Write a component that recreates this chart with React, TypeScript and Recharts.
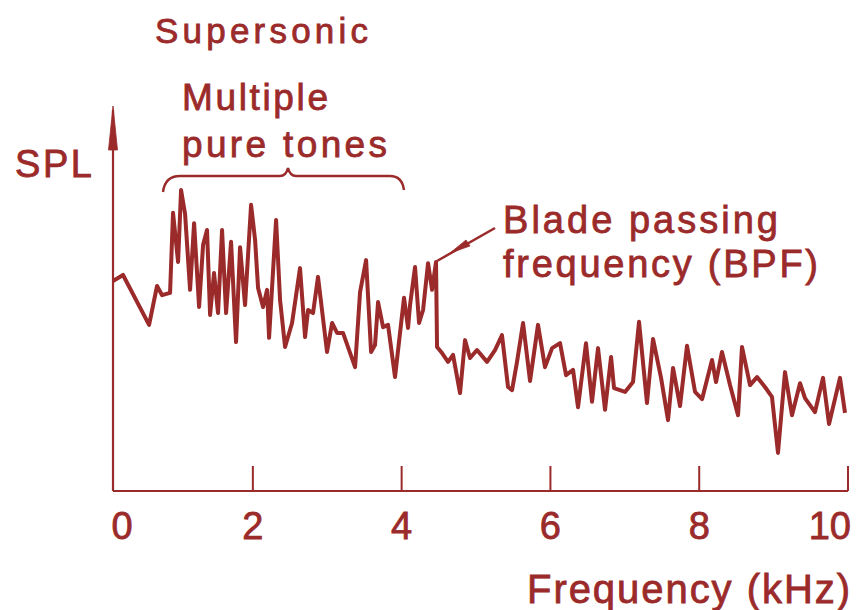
import { LineChart, Line, XAxis, YAxis } from 'recharts'

// Spectrum: frequency (kHz) and SPL (arbitrary units, 0–100)
const FREQ = [
  0.12, 0.255, 0.605, 0.712, 0.78, 0.887, 0.927, 0.995, 1.035, 1.089,
  1.156, 1.21, 1.277, 1.331, 1.384, 1.425, 1.478, 1.532, 1.586, 1.64,
  1.707, 1.774, 1.828, 1.895, 1.976, 2.03, 2.07, 2.137, 2.191, 2.218,
  2.312, 2.366, 2.433, 2.527, 2.634, 2.702, 2.742, 2.809, 2.876, 2.997,
  3.065, 3.132, 3.212, 3.374, 3.441, 3.522, 3.589, 3.642, 3.683, 3.75,
  3.817, 3.911, 4.032, 4.086, 4.113, 4.18, 4.234, 4.288, 4.355, 4.409,
  4.462, 4.476, 4.543, 4.624, 4.691, 4.785, 4.852, 4.919, 5.013, 5.148,
  5.255, 5.349, 5.43, 5.484, 5.551, 5.632, 5.726, 5.833, 5.927, 6.022,
  6.129, 6.21, 6.304, 6.371, 6.478, 6.559, 6.64, 6.734, 6.815, 6.855,
  7.003, 7.11, 7.191, 7.298, 7.379, 7.487, 7.581, 7.648, 7.742, 7.836,
  7.944, 8.038, 8.172, 8.226, 8.306, 8.414, 8.522, 8.575, 8.683, 8.777,
  8.884, 8.978, 9.059, 9.153, 9.247, 9.355, 9.422, 9.556, 9.664, 9.745,
  9.892, 9.96,
]
const SPL = [
  55.1, 56.7, 43.6, 53.8, 51.4, 52.0, 73.0, 60.1, 79.0, 72.7,
  52.8, 70.3, 48.3, 64.6, 68.5, 46.2, 57.2, 46.7, 68.5, 46.7,
  65.4, 39.1, 64.0, 48.8, 75.1, 65.9, 53.3, 48.3, 52.8, 40.2,
  71.1, 50.1, 37.8, 44.1, 58.5, 40.4, 47.5, 46.7, 56.2, 36.5,
  44.1, 41.5, 41.5, 32.5, 52.2, 60.6, 36.5, 38.3, 49.6, 43.0,
  43.6, 29.9, 50.7, 42.8, 48.8, 58.8, 44.1, 47.5, 59.8, 52.8,
  60.1, 37.8, 36.2, 33.9, 35.7, 25.7, 39.6, 34.9, 37.0, 33.9,
  37.0, 40.9, 27.3, 26.5, 33.9, 44.1, 28.9, 43.6, 32.5, 37.5,
  38.8, 30.4, 31.8, 22.0, 38.8, 23.4, 37.5, 21.3, 35.2, 27.0,
  26.0, 28.6, 44.4, 23.1, 39.9, 29.7, 18.6, 32.3, 22.3, 38.1,
  26.0, 24.1, 34.4, 28.6, 36.5, 27.8, 19.9, 37.8, 27.8, 29.9,
  27.3, 24.7, 10.0, 31.2, 19.9, 28.3, 24.4, 20.7, 29.7, 17.6,
  29.7, 20.5,
]
const X_TICKS = [0.12, 2, 4, 6, 8, 10]
const X_TICK_LABELS = ['0', '2', '4', '6', '8', '10']

const INK = '#9b2a2a'
const FONT = '"Liberation Sans", Arial, sans-serif'

const data = FREQ.map((f, i) => ({ f, spl: SPL[i] }))

function FreqTick({ x, y, index }: any) {
  const first = index === 0
  const last = index === X_TICKS.length - 1
  return (
    <g>
      {!first && <line x1={x} x2={x} y1={y - 25} y2={y} stroke={INK} strokeWidth={2} />}
      <text
        x={first ? x + 9 : last ? x + 3 : x}
        y={y + 48}
        textAnchor={last ? 'end' : 'middle'}
        fontSize={38}
        fontFamily={FONT}
        fill={INK}
        stroke={INK}
        strokeWidth={0.8}
      >
        {X_TICK_LABELS[index]}
      </text>
    </g>
  )
}

export default function App() {
  return (
    <div style={{ position: 'absolute', left: 0, top: 0, width: 857, height: 610, background: '#fff' }}>
      <LineChart width={857} height={610} data={data} margin={{ top: 110, right: 9, bottom: 0, left: 53 }}>
        <XAxis
          type="number"
          dataKey="f"
          domain={[0.12, 10]}
          ticks={X_TICKS}
          height={119}
          tickSize={0}
          tickMargin={0}
          tickLine={false}
          axisLine={{ stroke: INK, strokeWidth: 2.2 }}
          tick={<FreqTick />}
          interval={0}
        />
        <YAxis
          type="number"
          domain={[0, 100]}
          width={60}
          tick={false}
          tickLine={false}
          axisLine={{ stroke: INK, strokeWidth: 2.2 }}
        />
        <Line
          type="linear"
          dataKey="spl"
          stroke={INK}
          strokeWidth={4}
          strokeLinejoin="round"
          dot={false}
          isAnimationActive={false}
        />
      </LineChart>

      <svg width={857} height={610} style={{ position: 'absolute', left: 0, top: 0, pointerEvents: 'none' }}>
        <g fill={INK} stroke={INK} strokeWidth={0.8} fontFamily={FONT}>
          {/* axis arrow */}
          <polygon points="113,106 108.5,150 117.5,150" />
          <text x={15} y={177} fontSize={38} textLength={77} lengthAdjust="spacing">SPL</text>

          <text x={155} y={43} fontSize={35} textLength={213} lengthAdjust="spacing">Supersonic</text>
          <text x={182} y={110} fontSize={37} textLength={146} lengthAdjust="spacing">Multiple</text>
          <text x={182} y={157} fontSize={37} textLength={205} lengthAdjust="spacing">pure tones</text>

          <text x={503} y={233} fontSize={38} textLength={275} lengthAdjust="spacing">Blade passing</text>
          <text x={503} y={277} fontSize={38} textLength={315} lengthAdjust="spacing">frequency (BPF)</text>

          <text x={527} y={603} fontSize={40} textLength={323} lengthAdjust="spacing">Frequency (kHz)</text>

          {/* pointer to BPF */}
          <polygon points="450,253 466,240 470,246" />
        </g>
        <path
          d="M163,192 Q165,176 180,176 L280,176 Q286,176 288,168 Q290,176 296,176 L390,176 Q402,176 404,190"
          fill="none"
          stroke={INK}
          strokeWidth={2.5}
        />
        <line x1={495} y1={228} x2={437} y2={261} stroke={INK} strokeWidth={2.5} />
      </svg>
    </div>
  )
}
